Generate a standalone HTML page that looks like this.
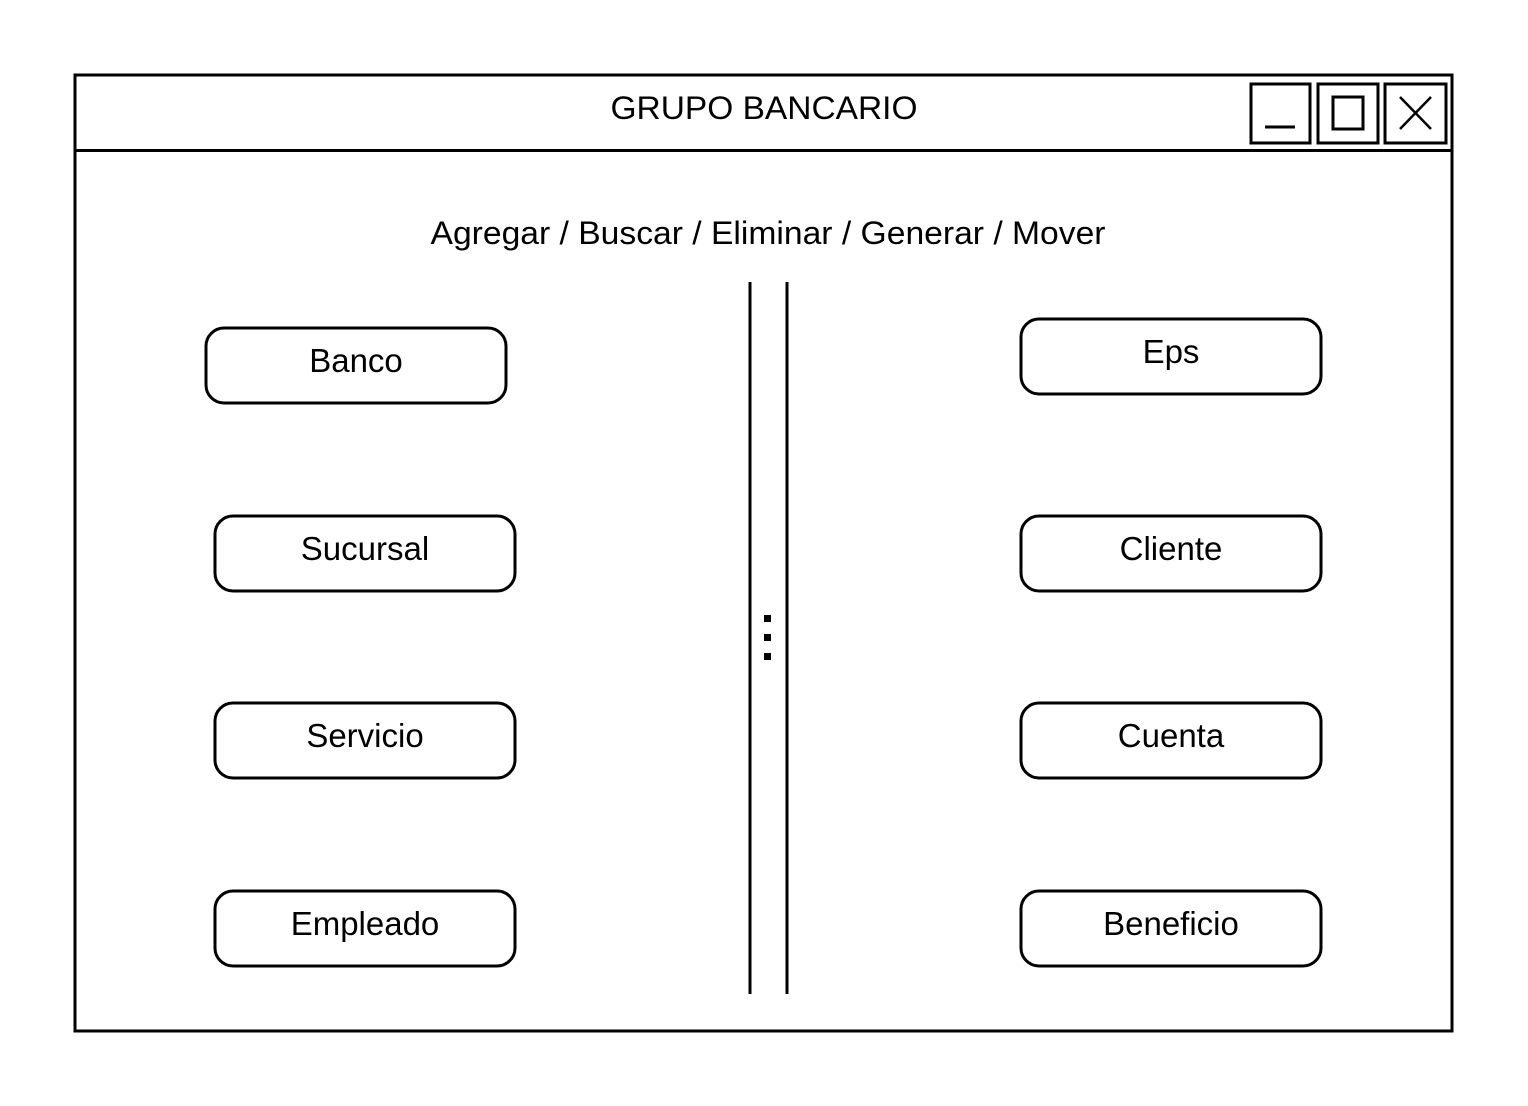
<!DOCTYPE html>
<html><head><meta charset="utf-8"><style>html,body{margin:0;padding:0;background:#fff}svg{display:block}</style></head>
<body>
<svg width="1528" height="1106" viewBox="0 0 1528 1106" xmlns="http://www.w3.org/2000/svg" font-family="Liberation Sans, sans-serif" fill="none" stroke="#000">
<rect x="75" y="75" width="1377" height="956" stroke-width="3" fill="#fff"/>
<line x1="75" y1="150.5" x2="1452" y2="150.5" stroke-width="3"/>
<rect x="1251" y="84" width="59" height="59" stroke-width="3"/>
<line x1="1265" y1="127" x2="1295" y2="127" stroke-width="3"/>
<rect x="1318" y="84" width="60" height="59" stroke-width="3"/>
<rect x="1333" y="97" width="30" height="32" stroke-width="3"/>
<rect x="1385" y="84" width="61" height="59" stroke-width="3"/>
<line x1="1400" y1="97" x2="1431" y2="129" stroke-width="2.5"/>
<line x1="1431" y1="97" x2="1400" y2="129" stroke-width="2.5"/>
<g fill="#000" stroke="none" font-size="32">
<text x="764" y="119" text-anchor="middle" textLength="307" lengthAdjust="spacingAndGlyphs">GRUPO BANCARIO</text>
<text x="768" y="244" text-anchor="middle" textLength="675" lengthAdjust="spacingAndGlyphs">Agregar / Buscar / Eliminar / Generar / Mover</text>
<rect x="764" y="615" width="7" height="7"/>
<rect x="764" y="634" width="7" height="7"/>
<rect x="764" y="653" width="7" height="7"/>
</g>
<line x1="750" y1="282" x2="750" y2="994" stroke-width="3"/>
<line x1="787" y1="282" x2="787" y2="994" stroke-width="3"/>
<g stroke-width="3">
<rect x="206" y="328" width="300" height="75" rx="18"/>
<rect x="215" y="516" width="300" height="75" rx="18"/>
<rect x="215" y="703" width="300" height="75" rx="18"/>
<rect x="215" y="891" width="300" height="75" rx="18"/>
<rect x="1021" y="319" width="300" height="75" rx="18"/>
<rect x="1021" y="516" width="300" height="75" rx="18"/>
<rect x="1021" y="703" width="300" height="75" rx="18"/>
<rect x="1021" y="891" width="300" height="75" rx="18"/>
</g>
<g fill="#000" stroke="none" font-size="33" text-anchor="middle">
<text x="356" y="372">Banco</text>
<text x="365" y="560">Sucursal</text>
<text x="365" y="747">Servicio</text>
<text x="365" y="935">Empleado</text>
<text x="1171" y="363">Eps</text>
<text x="1171" y="560">Cliente</text>
<text x="1171" y="747">Cuenta</text>
<text x="1171" y="935">Beneficio</text>
</g>
</svg>
</body></html>
